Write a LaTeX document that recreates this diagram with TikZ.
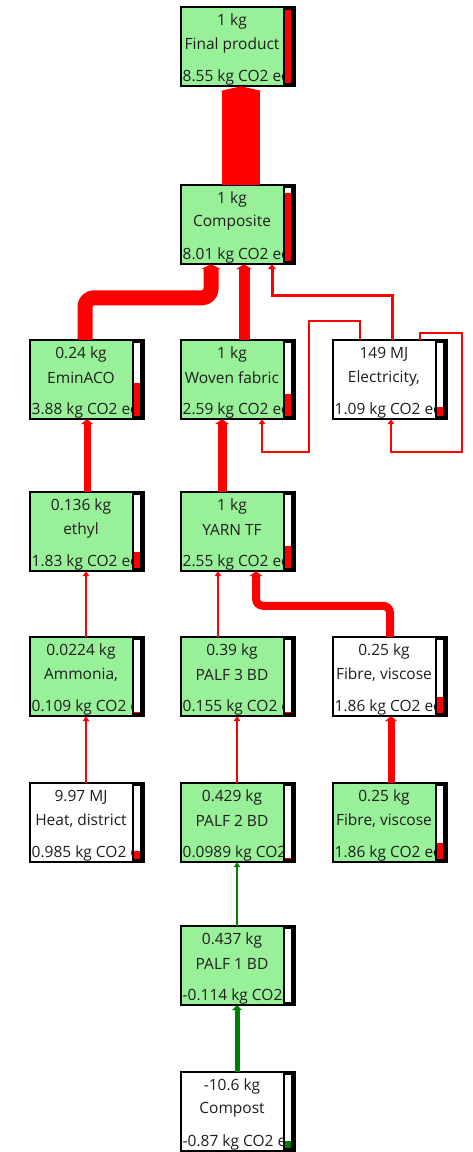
\documentclass[tikz,border=0pt]{standalone}
\usepackage{fontspec}
\setmainfont{Open Sans}
\usetikzlibrary{arrows.meta,calc}
\definecolor{boxgreen}{RGB}{152,240,152}
\definecolor{txt}{RGB}{30,30,30}
\definecolor{flowgreen}{RGB}{0,128,0}
\tikzset{
  lbl/.style={text=txt, inner sep=0pt, font=\fontsize{15.5}{18}\selectfont},
  anchorbox/.style={minimum width=114pt, minimum height=79pt, inner sep=0pt, draw=none},
  conn/.style={red, -{Triangle[length=5pt 0, width=5pt 1]}},
  gconn/.style={flowgreen, -{Triangle[length=5pt 0, width=5pt 1]}},
}
% #1 name, #2 x0, #3 y0, #4 fill, #5 line1, #6 line2, #7 line3, #8 fraction, #9 bar colour
\newcommand\pbox[9]{%
  \fill[#4] (#2,#3) rectangle ++(102,79);
  \fill[black] (#2+102,#3) rectangle ++(12,79);
  \fill[white] (#2+104,#3+3) rectangle ++(5.5,73);
  \fill[#9] (#2+104,#3+76) rectangle ++(5.5,-73*#8);
  \draw[line width=1.5pt] (#2,#3) rectangle ++(114,79);
  \node[anchorbox] (#1) at (#2+57,#3+39.5) {};
  \node[lbl] at (#2+51,#3+14) {#5};
  \node[lbl] at (#2+51,#3+38) {#6};
  \begin{scope}
    \clip (#2,#3) rectangle ++(102,79);
    \node[lbl, anchor=west] at (#2+1.5,#3+70) {#7};
  \end{scope}
}
\begin{document}
\begin{tikzpicture}[x=1pt,y=-1pt]
\useasboundingbox (0,0) rectangle (472,1152);
\fill[white] (0,0) rectangle (472,1152);

\pbox{fp}{181}{7}{boxgreen}{1 kg}{Final product}{8.55 kg CO2 eq}{1}{red}
\pbox{comp}{181}{185}{boxgreen}{1 kg}{Composite}{8.01 kg CO2 eq}{0.937}{red}
\pbox{emin}{30}{340}{boxgreen}{0.24 kg}{EminACO}{3.88 kg CO2 eq}{0.454}{red}
\pbox{woven}{181}{340}{boxgreen}{1 kg}{Woven fabric}{2.59 kg CO2 eq}{0.303}{red}
\pbox{elec}{333}{340}{white}{149 MJ}{Electricity,}{1.09 kg CO2 eq}{0.127}{red}
\pbox{ethyl}{30}{492}{boxgreen}{0.136 kg}{ethyl}{1.83 kg CO2 eq}{0.214}{red}
\pbox{yarn}{181}{492}{boxgreen}{1 kg}{YARN TF}{2.55 kg CO2 eq}{0.298}{red}
\pbox{ammonia}{30}{637}{boxgreen}{0.0224 kg}{Ammonia,}{0.109 kg CO2 eq}{0.013}{red}
\pbox{palfc}{181}{637}{boxgreen}{0.39 kg}{PALF 3 BD}{0.155 kg CO2 eq}{0.018}{red}
\pbox{fibrea}{333}{637}{white}{0.25 kg}{Fibre, viscose}{1.86 kg CO2 eq}{0.218}{red}
\pbox{heat}{30}{783}{white}{9.97 MJ}{Heat, district}{0.985 kg CO2 eq}{0.115}{red}
\pbox{palfb}{181}{783}{boxgreen}{0.429 kg}{PALF 2 BD}{0.0989 kg CO2 eq}{0.012}{red}
\pbox{fibreb}{333}{783}{boxgreen}{0.25 kg}{Fibre, viscose}{1.86 kg CO2 eq}{0.218}{red}
\pbox{palfa}{181}{926}{boxgreen}{0.437 kg}{PALF 1 BD}{-0.114 kg CO2 eq}{0}{flowgreen}
\pbox{compost}{181}{1072}{white}{-10.6 kg}{Compost}{-0.87 kg CO2 eq}{0.1}{flowgreen}

% connectors
\draw[conn, line width=38pt] ([xshift=3pt]comp.north) -- ([xshift=3pt]fp.south);
\draw[conn, line width=15pt, rounded corners=9pt] ([xshift=-2pt]emin.north) -- ++(0,-42) -| ([xshift=-27pt]comp.south);
\draw[conn, line width=11pt] ([xshift=6pt]woven.north) -- ([xshift=6pt]comp.south);
\draw[conn, line width=3pt] ([xshift=2pt]elec.north) -- ++(0,-44) -| ([xshift=34pt]comp.south);
\draw[conn, line width=1.5pt] ([xshift=-30pt]elec.north) -- ++(0,-19) -- ++(-51,0) -- ++(0,131) -| ([xshift=24pt]woven.south);
\draw[conn, line width=1.5pt] ([xshift=30pt]elec.north) -- ++(0,-7) -- ++(42,0) -- ++(0,119) -| ([xshift=1pt]elec.south);
\draw[conn, line width=7pt] (ethyl.north) -- (emin.south);
\draw[conn, line width=9pt] ([xshift=-16pt]yarn.north) -- ([xshift=-16pt]woven.south);
\draw[conn, line width=1.5pt] ([xshift=-1pt]ammonia.north) -- ([xshift=-1pt]ethyl.south);
\draw[conn, line width=1.5pt] ([xshift=-20pt]palfc.north) -- ([xshift=-20pt]yarn.south);
\draw[conn, line width=8pt, rounded corners=7pt] (fibrea.north) -- ++(0,-31) -| ([xshift=18pt]yarn.south);
\draw[conn, line width=1.5pt] ([xshift=-1pt]heat.north) -- ([xshift=-1pt]ammonia.south);
\draw[conn, line width=1.5pt] ([xshift=-1pt]palfb.north) -- ([xshift=-1pt]palfc.south);
\draw[conn, line width=7pt] ([xshift=1pt]fibreb.north) -- ([xshift=1pt]fibrea.south);
\draw[gconn, line width=1.5pt] ([xshift=-1pt]palfa.north) -- ([xshift=-1pt]palfb.south);
\draw[gconn, line width=5pt] ([xshift=-1pt]compost.north) -- ([xshift=-1pt]palfa.south);
\end{tikzpicture}
\end{document}
